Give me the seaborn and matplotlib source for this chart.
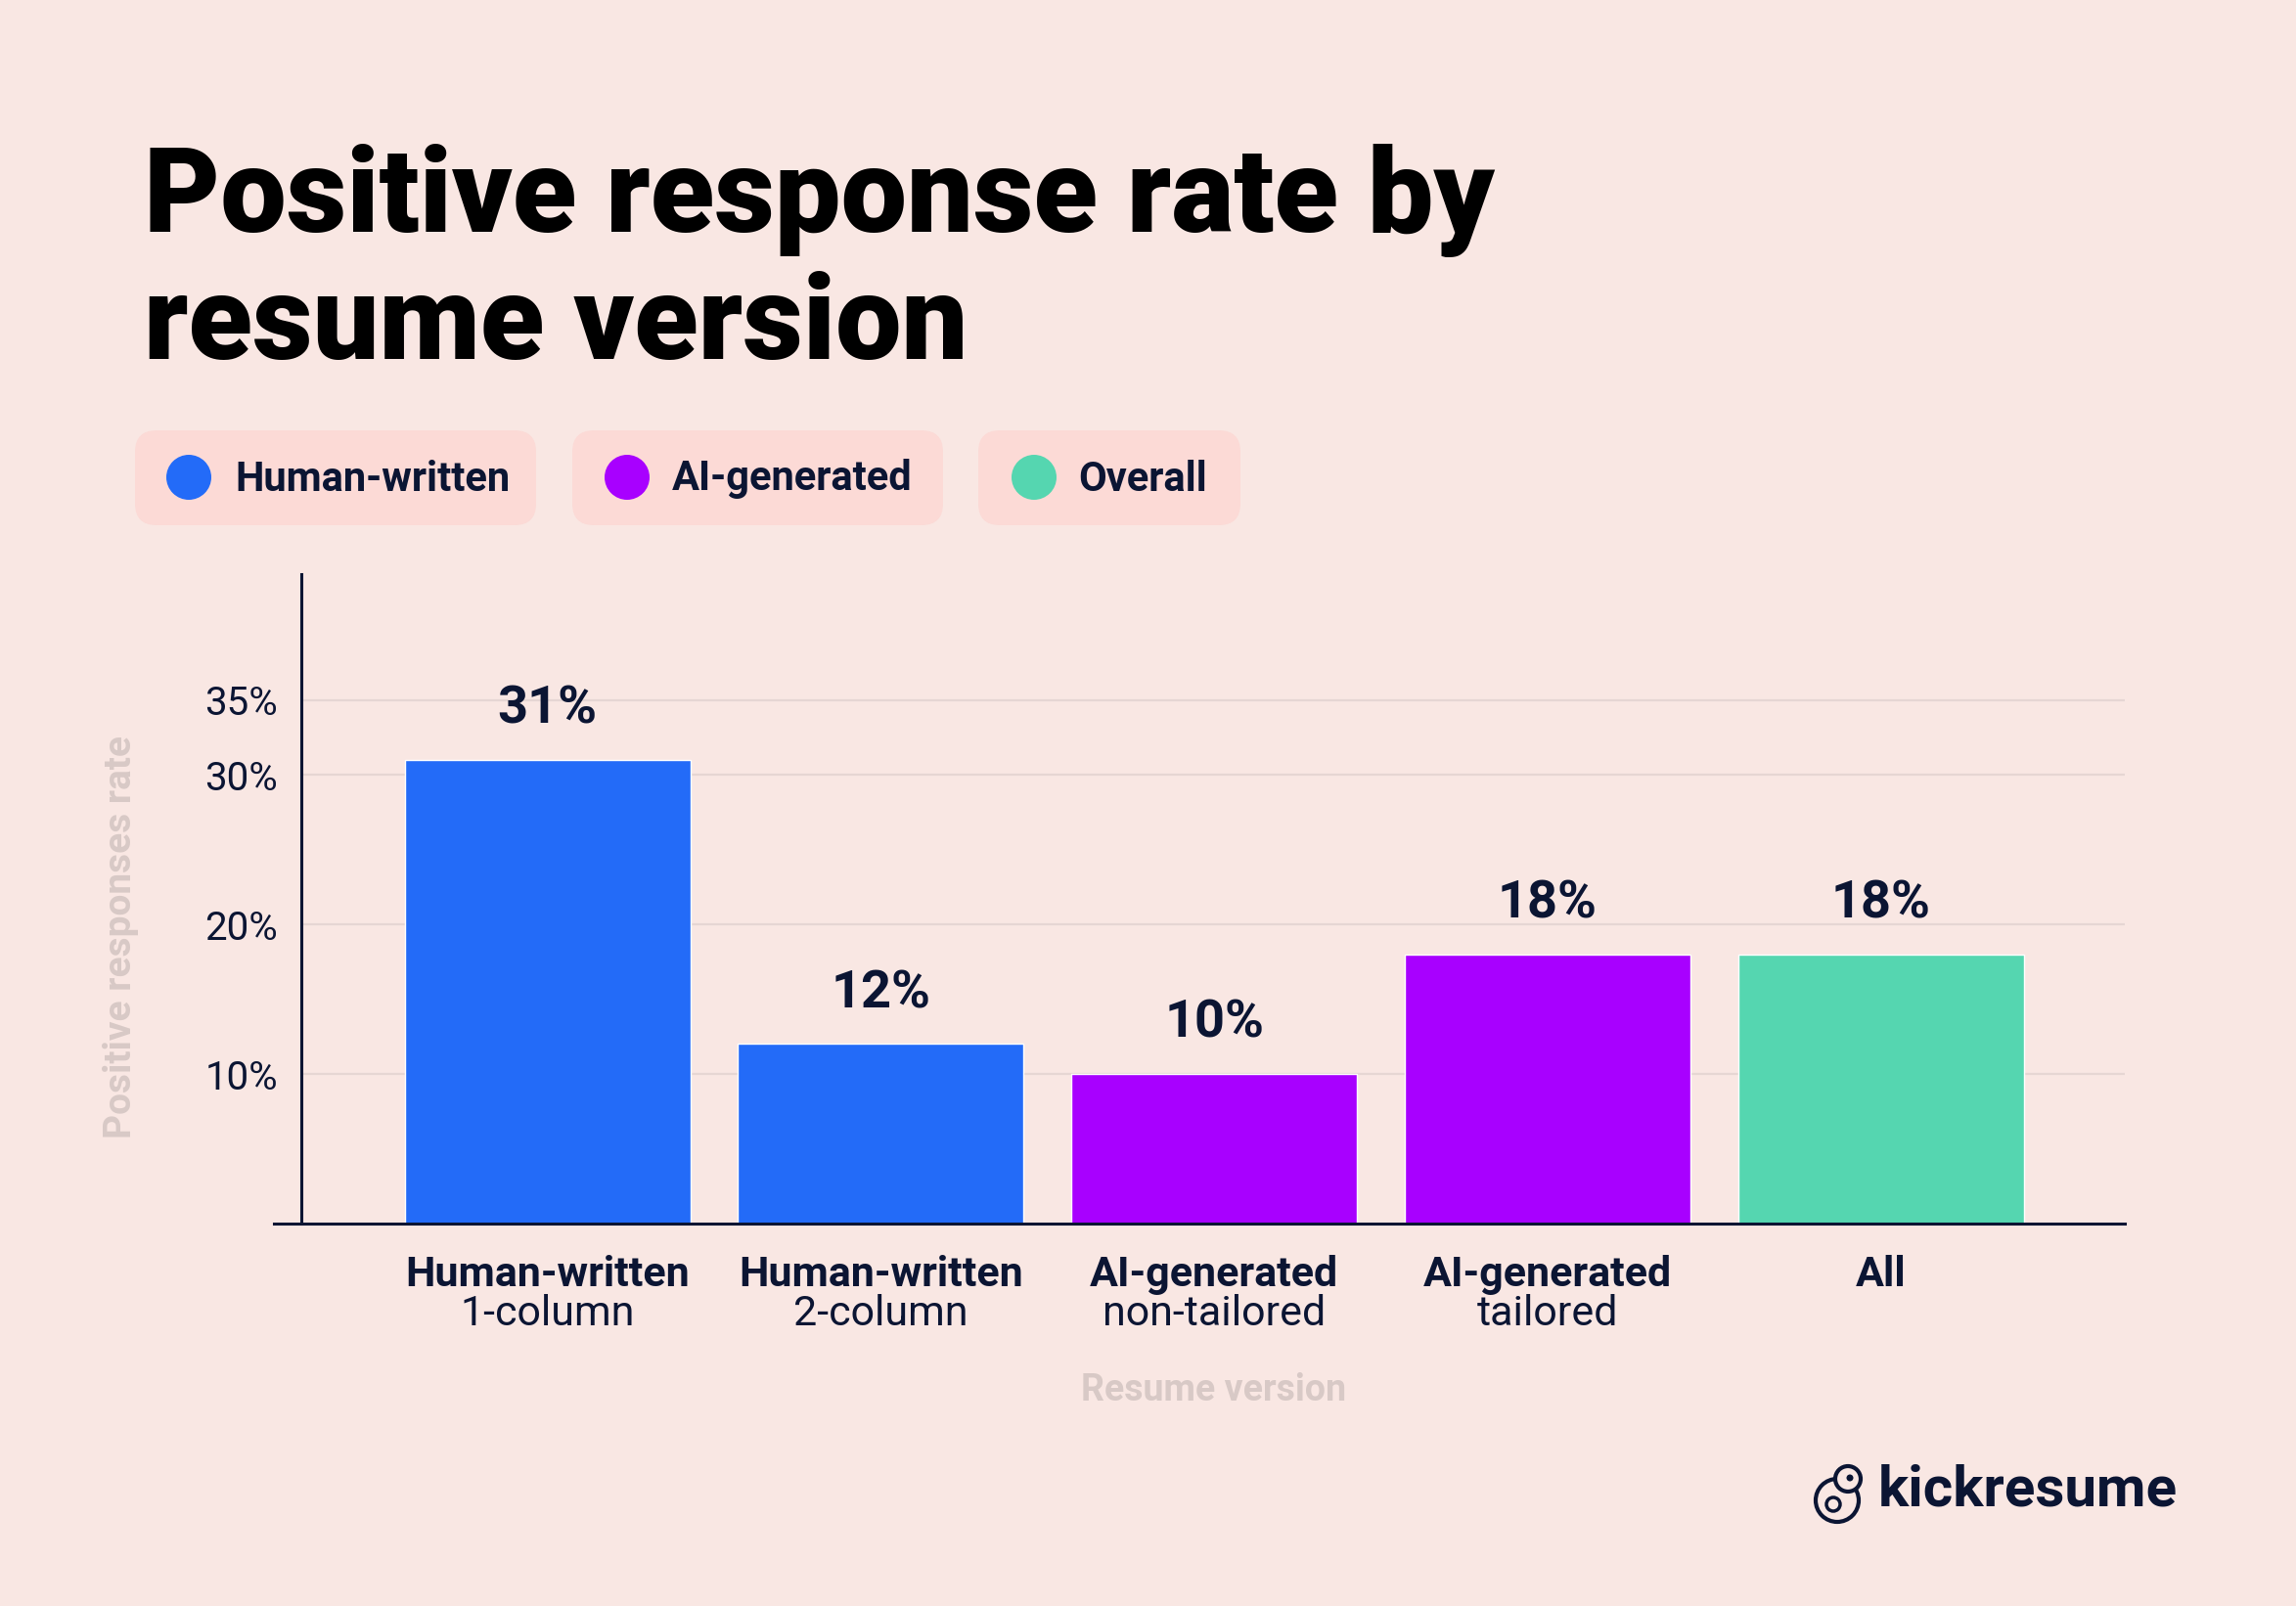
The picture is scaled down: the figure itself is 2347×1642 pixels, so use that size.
"""
Positive response rate by resume version - bar chart
"""

import matplotlib
matplotlib.use('Agg')
import matplotlib.pyplot as plt
from matplotlib.patches import FancyBboxPatch, Circle
import seaborn as sns
import pandas as pd

# ============================================================================
# DATA
# ============================================================================
categories = ['Human-written\n1-column', 'Human-written\n2-column',
              'AI-generated\nnon-tailored', 'AI-generated\ntailored', 'All']
values = [31, 12, 10, 18, 18]
groups = ['Human-written', 'Human-written', 'AI-generated', 'AI-generated', 'Overall']
group_order = ['Human-written', 'AI-generated', 'Overall']
y_ticks = [10, 20, 30, 35]
y_tick_labels = ['10%', '20%', '30%', '35%']

# ============================================================================
# STYLE
# ============================================================================
BG = '#F9E7E3'
PILL = '#FCDAD6'
NAVY = '#0B1533'
GRID = '#E6D6D3'
MUTED = '#D8C9C6'
palette = {'Human-written': '#236BF8', 'AI-generated': '#A800FF', 'Overall': '#55D6B0'}

sns.set_style('white')
plt.rcParams['font.family'] = ['Roboto', 'DejaVu Sans']

W, H = 2347, 1642
fig = plt.figure(figsize=(W / 100, H / 100), dpi=100, facecolor=BG)

# overlay in pixel coordinates for title, legend pills and logo
oax = fig.add_axes([0, 0, 1, 1])
oax.set_xlim(0, W)
oax.set_ylim(H, 0)
oax.axis('off')
oax.set_facecolor(BG)

# ============================================================================
# BAR CHART
# ============================================================================
df = pd.DataFrame({'version': categories, 'rate': values, 'group': groups})

ax = fig.add_axes([280 / W, 1 - 1251 / H, (2172 - 280) / W, (1251 - 587) / H])
ax.set_facecolor('none')
sns.barplot(data=df, x='version', y='rate', hue='group', hue_order=group_order,
            palette=palette, dodge=False, width=0.857, saturation=1,
            legend=False, ax=ax, zorder=2)

ax.set_xlim(-0.821, 4.732)
ax.set_ylim(0, 43.4)

ax.hlines(y_ticks, -0.739, 4.732, color=GRID, lw=1.6, zorder=0)

for side in ['top', 'right']:
    ax.spines[side].set_visible(False)
ax.spines['left'].set_position(('data', -0.739))
for side in ['left', 'bottom']:
    ax.spines[side].set_color(NAVY)
    ax.spines[side].set_linewidth(2.2)

ax.set_yticks(y_ticks)
ax.set_yticklabels(y_tick_labels)
ax.tick_params(axis='y', length=0, pad=17, labelsize=29, labelcolor=NAVY)
ax.set_xticks(range(len(categories)))
ax.set_xticklabels([''] * len(categories))
ax.tick_params(axis='x', length=0)
ax.set_xlabel('')
ax.set_ylabel('')

for container in ax.containers:
    ax.bar_label(container, fmt='%d%%', padding=19, fontsize=39,
                 fontweight='bold', color=NAVY)

# two-line category labels: bold first line, regular second line
xt = ax.get_xaxis_transform()
for i, cat in enumerate(categories):
    parts = cat.split('\n')
    ax.text(i, -0.079, parts[0], transform=xt, ha='center', va='center',
            fontsize=31, fontweight='bold', color=NAVY)
    if len(parts) > 1:
        ax.text(i, -0.140, parts[1], transform=xt, ha='center', va='center',
                fontsize=31, color=NAVY)

# axis titles
oax.text(124, 958, 'Positive responses rate', rotation=90, ha='center', va='center',
         fontsize=28, fontweight='bold', color=MUTED)
oax.text(1241, 1422, 'Resume version', ha='center', va='center',
         fontsize=27, fontweight='bold', color=MUTED)

# ============================================================================
# TITLE
# ============================================================================
oax.text(147, 237, 'Positive response rate by', ha='left', va='baseline',
         fontsize=86.5, fontweight='black', color='black')
oax.text(147, 367, 'resume version', ha='left', va='baseline',
         fontsize=86.5, fontweight='black', color='black')

# ============================================================================
# LEGEND PILLS
# ============================================================================
pills = [(138, 548, 193, 240), (585, 964, 641, 687), (1000, 1268, 1057, 1102)]
for (x0, x1, dot_x, txt_x), grp in zip(pills, group_order):
    oax.add_patch(FancyBboxPatch((x0 + 22, 440 + 22), x1 - x0 - 44, 97 - 44,
                                 boxstyle='round,pad=22', fc=PILL, ec='none'))
    oax.add_patch(Circle((dot_x, 488), 23, fc=palette[grp], ec='none'))
    oax.text(txt_x, 490, grp, ha='left', va='center', fontsize=30,
             fontweight='bold', color=NAVY)

# ============================================================================
# LOGO
# ============================================================================
oax.add_patch(Circle((1878, 1534), 22, fc='none', ec=NAVY, lw=3))
oax.add_patch(Circle((1889, 1512), 13, fc=BG, ec=NAVY, lw=3))
oax.add_patch(Circle((1891, 1511), 3.5, fc=NAVY, ec='none'))
oax.add_patch(Circle((1874, 1538), 7, fc='none', ec=NAVY, lw=2.5))
oax.text(1920, 1524, 'kickresume', ha='left', va='center', fontsize=42,
         fontweight='bold', color=NAVY)

fig.savefig('out.png', dpi=100, facecolor=BG)
print("✓ Chart saved: out.png")
